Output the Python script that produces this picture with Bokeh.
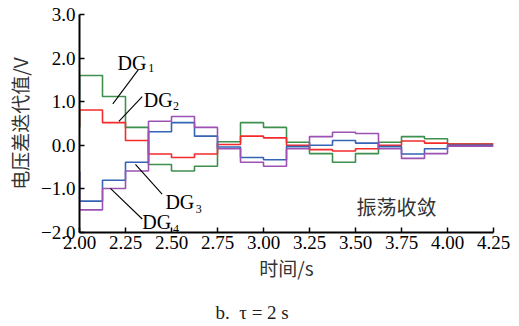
from bokeh.plotting import figure
from bokeh.models import FixedTicker, Label, Title
from bokeh.embed import file_html
from bokeh.resources import INLINE

# ---- data ----
step_times = [2.0, 2.125, 2.25, 2.375, 2.5, 2.625, 2.75, 2.875, 3.0,
              3.125, 3.25, 3.375, 3.5, 3.625, 3.75, 3.875, 4.0]
end_time = 4.25
dg1 = [1.60, 1.12, 0.41, -0.44, -0.59, -0.48, 0.08, 0.52, 0.41,
       0.07, -0.19, -0.39, -0.19, 0.07, 0.20, 0.15, 0.03]
dg2 = [0.81, 0.52, 0.11, -0.20, -0.28, -0.20, 0.02, 0.21, 0.17,
       0.00, -0.10, -0.13, -0.08, 0.00, 0.10, 0.05, 0.03]
dg3 = [-1.28, -0.80, -0.39, 0.31, 0.52, 0.21, -0.04, -0.28, -0.33,
       -0.03, 0.00, 0.11, 0.05, -0.03, -0.20, -0.08, 0.00]
dg4 = [-1.48, -0.99, -0.59, 0.55, 0.66, 0.41, -0.08, -0.39, -0.48,
       -0.08, 0.20, 0.30, 0.27, -0.08, -0.30, -0.19, -0.02]
initial_values = [0.40, 0.43, -0.60, -0.60]
series_names = ["1", "2", "3", "4"]

x_ticks = [2.0, 2.25, 2.5, 2.75, 3.0, 3.25, 3.5, 3.75, 4.0, 4.25]
x_tick_labels = ["2.00", "2.25", "2.50", "2.75", "3.00", "3.25", "3.50", "3.75", "4.00", "4.25"]
y_ticks = [-2, -1, 0, 1, 2, 3]
y_tick_labels = ["\u22122.0", "\u22121.0", "0.0", "1.0", "2.0", "3.0"]

colors = ["#3f8f4f", "#f52a2a", "#3563b5", "#9b52b3"]

SERIF = "Liberation Serif"
CJK = "Noto Sans CJK SC"

p = figure(width=519, height=326, output_backend="svg", toolbar_location=None,
           x_range=(2.0, 4.25), y_range=(-2.0, 3.0),
           min_border_left=79, min_border_right=26, min_border_top=14, min_border_bottom=94)
p.outline_line_color = None
p.grid.visible = False
p.background_fill_color = "white"
p.border_fill_color = "white"

for vals, init, col in zip([dg1, dg2, dg3, dg4], initial_values, colors):
    xs = [step_times[0]] + step_times + [end_time]
    ys = [init] + vals + [vals[-1]]
    p.step(xs, ys, mode="after", line_color=col, line_width=1.6)

for ax in (p.xaxis[0], p.yaxis[0]):
    ax.axis_line_width = 2
    ax.axis_line_color = "black"
    ax.major_tick_in = 5
    ax.major_tick_out = 0
    ax.major_tick_line_width = 1.5
    ax.minor_tick_line_color = None
    ax.major_label_text_font = SERIF
    ax.major_label_text_font_size = "19px"
    ax.major_label_text_color = "black"
    ax.axis_label_text_font = CJK
    ax.axis_label_text_font_size = "19px"
    ax.axis_label_text_font_style = "normal"
    ax.axis_label_text_color = "#333333"

p.xaxis.ticker = FixedTicker(ticks=x_ticks)
p.xaxis.major_label_overrides = {t: l for t, l in zip(x_ticks, x_tick_labels)}
p.yaxis.ticker = FixedTicker(ticks=y_ticks)
p.yaxis.major_label_overrides = {t: l for t, l in zip(y_ticks, y_tick_labels)}
p.xaxis.major_label_standoff = 3
p.yaxis.major_label_standoff = 4
p.xaxis.axis_label = "时间/s"
p.yaxis.axis_label = "电压差迭代值/V"
p.xaxis.axis_label_standoff = 2
p.yaxis.axis_label_standoff = 5

# leader lines
leaders = [
    (2.181, 0.95, 2.319, 1.73),
    (2.214, 0.547, 2.341, 1.116),
    (2.304, -0.44, 2.449, -1.12),
    (2.168, -0.99, 2.341, -1.69),
]
p.segment(x0=[l[0] for l in leaders], y0=[l[1] for l in leaders],
          x1=[l[2] for l in leaders], y1=[l[3] for l in leaders],
          line_color="black", line_width=1.1)

# DG labels: (x, baseline y, sub x, sub baseline y)
label_pos = [
    (2.2065, 1.89, 2.374, 1.77),
    (2.349, 1.04, 2.508, 0.906),
    (2.467, -1.31, 2.632, -1.465),
    (2.341, -1.77, 2.508, -1.92),
]
for name, (lx, ly, sx, sy) in zip(series_names, label_pos):
    p.add_layout(Label(x=lx, y=ly, text="DG", text_font=SERIF, text_font_size="20px",
                       text_baseline="alphabetic", text_align="left", text_color="black"))
    p.add_layout(Label(x=sx, y=sy, text=name, text_font=SERIF, text_font_size="12px",
                       text_baseline="alphabetic", text_align="left", text_color="black"))

p.add_layout(Label(x=3.505, y=-1.41, text="振荡收敛", text_font=CJK, text_font_size="20px",
                   text_baseline="middle", text_align="left", text_color="#333333"))

# caption below the axis (leading blank line pushes it toward the bottom edge)
caption = Title(text="\u00a0\nb.\u00a0\u00a0τ\u00a0=\u00a02\u00a0s", align="left", offset=136, standoff=0,
                vertical_align="bottom", text_line_height=0.75,
                text_font=SERIF, text_font_size="19px", text_font_style="normal",
                text_color="#222222")
p.add_layout(caption, "below")

open("out.html", "w").write(file_html(p, INLINE))
